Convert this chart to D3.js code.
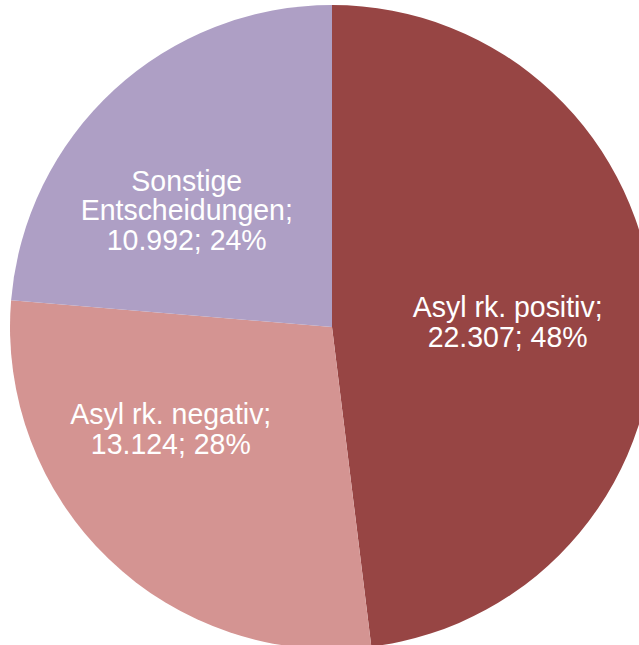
<!DOCTYPE html>
<html>
<head>
<meta charset="utf-8">
<script src="https://cdn.jsdelivr.net/npm/d3@7"></script>
<style>
  body { margin: 0; background: #fff; }
  svg { display: block; }
</style>
</head>
<body>
<div id="chart"></div>
<script>
// Entscheidungen (Anzahl)
var categories = ["Asyl rk. positiv", "Asyl rk. negativ", "Sonstige Entscheidungen"];
var values = [22307, 13124, 10992];
var colors = ["#974544", "#d49492", "#ae9fc5"];
// how the label text wraps
var labelLines = [["Asyl rk. positiv;"], ["Asyl rk. negativ;"], ["Sonstige", "Entscheidungen;"]];

var width = 639, height = 645;
var cx = 332, cy = 327, radius = 322;
var fontSize = 28.5, lineH = 29.5;
// label nudges, in px from the centroid of labelArc
var labelShift = [[-9, 6], [-33, -32], [-20, 19]];

var de = d3.formatLocale({ decimal: ",", thousands: ".", grouping: [3], currency: ["", " €"] });
var fmtNum = de.format(",d");

var total = d3.sum(values);
var data = categories.map(function(c, i) {
  return { name: c, value: values[i], color: colors[i], lines: labelLines[i], shift: labelShift[i] };
});

var svg = d3.select("#chart").append("svg")
  .attr("width", width)
  .attr("height", height);

var g = svg.append("g").attr("transform", "translate(" + cx + "," + cy + ")");

var pie = d3.pie().sort(null).value(function(d) { return d.value; });
var arc = d3.arc().innerRadius(0).outerRadius(radius);
var labelArc = d3.arc().innerRadius(185).outerRadius(185);

var arcs = pie(data);

g.selectAll(".slice")
  .data(arcs).enter()
  .append("path")
  .attr("class", "slice")
  .attr("d", arc)
  .style("fill", function(d) { return d.data.color; });

var labels = g.selectAll(".label")
  .data(arcs).enter()
  .append("text")
  .attr("class", "label")
  .attr("text-anchor", "middle")
  .style("font-family", "'Liberation Sans', Arial, sans-serif")
  .style("font-size", fontSize + "px")
  .style("fill", "#fff")
  .attr("transform", function(d) {
    var c = labelArc.centroid(d);
    return "translate(" + (c[0] + d.data.shift[0]) + "," + (c[1] + d.data.shift[1]) + ") scale(1,1.045)";
  });

labels.each(function(d) {
  var lines = d.data.lines.concat([fmtNum(d.data.value) + "; " + Math.round(d.data.value / total * 100) + "%"]);
  var n = lines.length;
  var t = d3.select(this);
  lines.forEach(function(l, i) {
    t.append("tspan")
      .attr("x", 0)
      .attr("y", (i - (n - 1) / 2) * (lineH / 1.045) + fontSize * 0.35)
      .text(l);
  });
});
</script>
</body>
</html>
